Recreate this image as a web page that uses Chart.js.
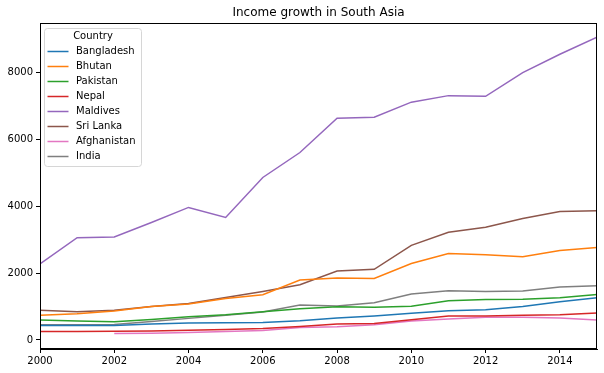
<!DOCTYPE html>
<html>
<head>
<meta charset="utf-8">
<script src="https://cdn.jsdelivr.net/npm/chart.js@4"></script>
<style>
  body { margin: 0; background: #fff; }
  #wrap { width: 604px; height: 373px; }
</style>
</head>
<body>
<div id="wrap"><canvas id="incomeChart" width="604" height="373"></canvas></div>
<script>
// Dữ liệu
const years = [2000, 2001, 2002, 2003, 2004, 2005, 2006, 2007, 2008, 2009, 2010, 2011, 2012, 2013, 2014, 2015];
const countries = ['Bangladesh', 'Bhutan', 'Pakistan', 'Nepal', 'Maldives', 'Sri Lanka', 'Afghanistan', 'India'];
const bangladesh = [435, 435, 435, 475, 505, 515, 525, 575, 655, 715, 795, 875, 905, 1000, 1140, 1260];
const bhutan = [735, 785, 865, 1000, 1075, 1240, 1350, 1790, 1850, 1840, 2285, 2585, 2545, 2485, 2675, 2765];
const pakistan = [595, 565, 545, 615, 695, 755, 845, 935, 995, 975, 1005, 1175, 1210, 1220, 1260, 1360];
const nepal = [250, 250, 260, 265, 290, 315, 345, 405, 475, 495, 605, 715, 715, 735, 755, 805];
const maldives = [2270, 3055, 3075, 3510, 3960, 3660, 4855, 5600, 6625, 6655, 7105, 7300, 7280, 7990, 8535, 9045];
const sriLanka = [885, 845, 885, 1000, 1090, 1270, 1450, 1650, 2060, 2110, 2825, 3220, 3370, 3630, 3840, 3860];
const afghanistan = [null, null, 190, 200, 220, 250, 285, 375, 395, 455, 565, 625, 675, 675, 655, 595];
const india = [455, 455, 465, 555, 645, 735, 835, 1045, 1015, 1115, 1370, 1470, 1450, 1460, 1580, 1620];
const xTicks = [2000, 2002, 2004, 2006, 2008, 2010, 2012, 2014];
const yTicks = [0, 2000, 4000, 6000, 8000];

const seriesValues = [bangladesh, bhutan, pakistan, nepal, maldives, sriLanka, afghanistan, india];
const colors = ['#1f77b4', '#ff7f0e', '#2ca02c', '#d62728', '#9467bd', '#8c564b', '#e377c2', '#7f7f7f'];
const FONT = '"DejaVu Sans", sans-serif';

// Khung viền, tiêu đề và chú thích kiểu matplotlib
const framePlugin = {
    id: 'frame',
    afterDatasetsDraw(chart) {
        const ctx = chart.ctx;
        const a = chart.chartArea;
        ctx.save();
        ctx.strokeStyle = '#000';
        ctx.lineWidth = 1;
        ctx.strokeRect(Math.round(a.left) + 0.5, Math.round(a.top) + 0.5,
            Math.round(a.right - a.left) - 1, Math.round(a.bottom - a.top) - 1);

        // tiêu đề
        ctx.fillStyle = '#000';
        ctx.font = '12px ' + FONT;
        ctx.textAlign = 'center';
        ctx.textBaseline = 'middle';
        ctx.fillText('Income growth in South Asia', (a.left + a.right) / 2, 13);

        // chú thích
        const bx = a.left + 4.5, by = a.top + 5.5, bw = 97, bh = 138;
        ctx.beginPath();
        ctx.roundRect(bx, by, bw, bh, 3);
        ctx.fillStyle = 'rgba(255,255,255,0.8)';
        ctx.fill();
        ctx.strokeStyle = '#d6d6d6';
        ctx.stroke();

        ctx.fillStyle = '#000';
        ctx.font = '10px ' + FONT;
        ctx.textAlign = 'center';
        ctx.fillText('Country', bx + bw / 2, by + 8);
        ctx.textAlign = 'left';
        chart.data.datasets.forEach(function(ds, i) {
            const yy = by + 23 + i * 15;
            ctx.beginPath();
            ctx.moveTo(bx + 3, yy);
            ctx.lineTo(bx + 24, yy);
            ctx.strokeStyle = ds.borderColor;
            ctx.lineWidth = 1.5;
            ctx.stroke();
            ctx.fillText(ds.label, bx + 31.5, yy);
        });
        ctx.restore();
    }
};

document.addEventListener('DOMContentLoaded', function() {
    const ctx = document.getElementById('incomeChart').getContext('2d');
    const chart = new Chart(ctx, {
        type: 'line',
        data: {
            datasets: countries.map(function(name, i) {
                return {
                    label: name,
                    data: years.map(function(yr, j) { return { x: yr, y: seriesValues[i][j] }; }),
                    borderColor: colors[i],
                    backgroundColor: colors[i],
                    borderWidth: 1.5,
                    pointRadius: 0,
                    tension: 0,
                    spanGaps: false
                };
            })
        },
        options: {
            responsive: false,
            animation: false,
            events: [],
            layout: { padding: { left: 0, right: 7, top: 23, bottom: 0 } },
            plugins: {
                legend: { display: false },
                title: { display: false },
                tooltip: { enabled: false }
            },
            scales: {
                x: {
                    type: 'linear',
                    min: 2000,
                    max: 2015,
                    afterBuildTicks: function(scale) {
                        scale.ticks = xTicks.map(function(v) { return { value: v }; });
                    },
                    afterFit: function(scale) { scale.height = 24; },
                    grid: { drawOnChartArea: false, drawTicks: true, tickLength: 4, tickColor: '#000' },
                    border: { display: true, color: '#000', width: 1 },
                    ticks: {
                        color: '#000',
                        font: { family: FONT, size: 10 },
                        padding: 2,
                        maxRotation: 0,
                        callback: function(v) { return String(v); }
                    }
                },
                y: {
                    type: 'linear',
                    min: -270,
                    max: 9470,
                    afterBuildTicks: function(scale) {
                        scale.ticks = yTicks.map(function(v) { return { value: v }; });
                    },
                    afterFit: function(scale) { scale.width = 40; },
                    grid: { drawOnChartArea: false, drawTicks: true, tickLength: 4, tickColor: '#000' },
                    border: { display: true, color: '#000', width: 1 },
                    ticks: {
                        color: '#000',
                        font: { family: FONT, size: 10 },
                        padding: 3,
                        callback: function(v) { return String(v); }
                    }
                }
            }
        },
        plugins: [framePlugin]
    });
});
</script>
</body>
</html>
